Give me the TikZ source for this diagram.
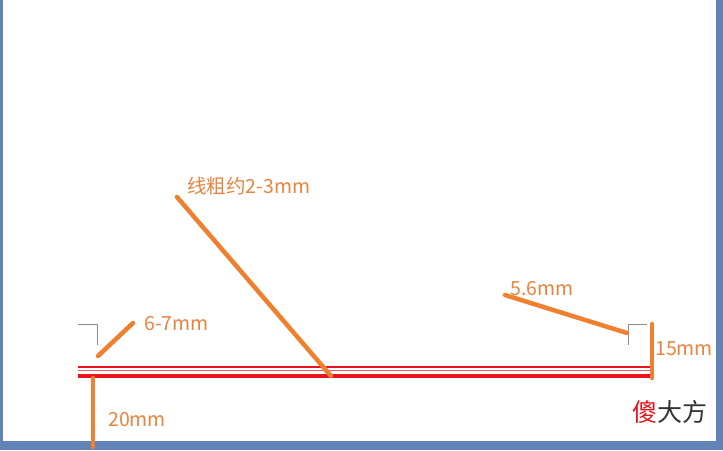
\documentclass[tikz,border=0pt]{standalone}
\usepackage{fontspec}
\setmainfont{Noto Sans CJK SC}
\definecolor{frameblue}{HTML}{6283B5}
\definecolor{dimorange}{HTML}{EE8030}
\definecolor{txtorange}{HTML}{E8843E}
\definecolor{lred}{HTML}{E8141B}
\definecolor{cornergray}{HTML}{8C8C8C}
\definecolor{darktxt}{HTML}{333333}
\begin{document}
\begin{tikzpicture}[x=1pt,y=-1pt,
  dimline/.style={draw=dimorange,line width=4.5pt,line cap=round},
  lbl/.style={text=txtorange,font=\fontsize{19.5}{22}\selectfont,inner sep=0pt,anchor=west},
  corner/.style={draw=cornergray,line width=0.9pt}]
\useasboundingbox (0,0) rectangle (723,450);
\fill[frameblue] (0,0) rectangle (723,450);
\fill[white] (3,0) rectangle (716,441);
% rail lines
\coordinate (rl) at (78,375.5);
\coordinate (rr) at (652,375.5);
\draw[lred,line width=1.2pt] (78,367) -- (652,367);
\draw[lred!70,line width=1pt] (78,370.5) -- (652,370.5);
\draw[lred,line width=4pt] (rl) -- (rr);
% gray corners
\draw[corner] (78,324) -- (97,324) -- (97,345);
\draw[corner] (647,324) -- (628,324) -- (628,345);
% coordinates
\coordinate (a1) at (98,356); \coordinate (a2) at (133,323);
\coordinate (b1) at (177,197); \coordinate (b2) at (331,376);
\coordinate (c1) at (505,295); \coordinate (c2) at (627,333);
\coordinate (d1) at (652,324); \coordinate (d2) at (652,378);
\coordinate (e1) at (93,378); \coordinate (e2) at (93,447);
\draw[dimline] (a1) -- (a2);
\draw[dimline] (b1) -- (b2);
\draw[dimline] (c1) -- (c2);
\draw[dimline] (d1) -- (d2);
\draw[dimline] (e1) -- (e2);
% labels
\node[lbl] (t1) at (144,324) {6-7mm};
\node[lbl] (t2) at (187,186) {线粗约2-3mm};
\node[lbl] (t3) at (510,289) {5.6mm};
\node[lbl] (t4) at (655,349) {15mm};
\node[lbl] (t5) at (108,420) {20mm};
\node[inner sep=0pt,anchor=west,font=\fontsize{25}{28}\selectfont] (sig) at (632,412) {\textcolor{lred}{傻}\textcolor{darktxt}{大方}};
\end{tikzpicture}
\end{document}
